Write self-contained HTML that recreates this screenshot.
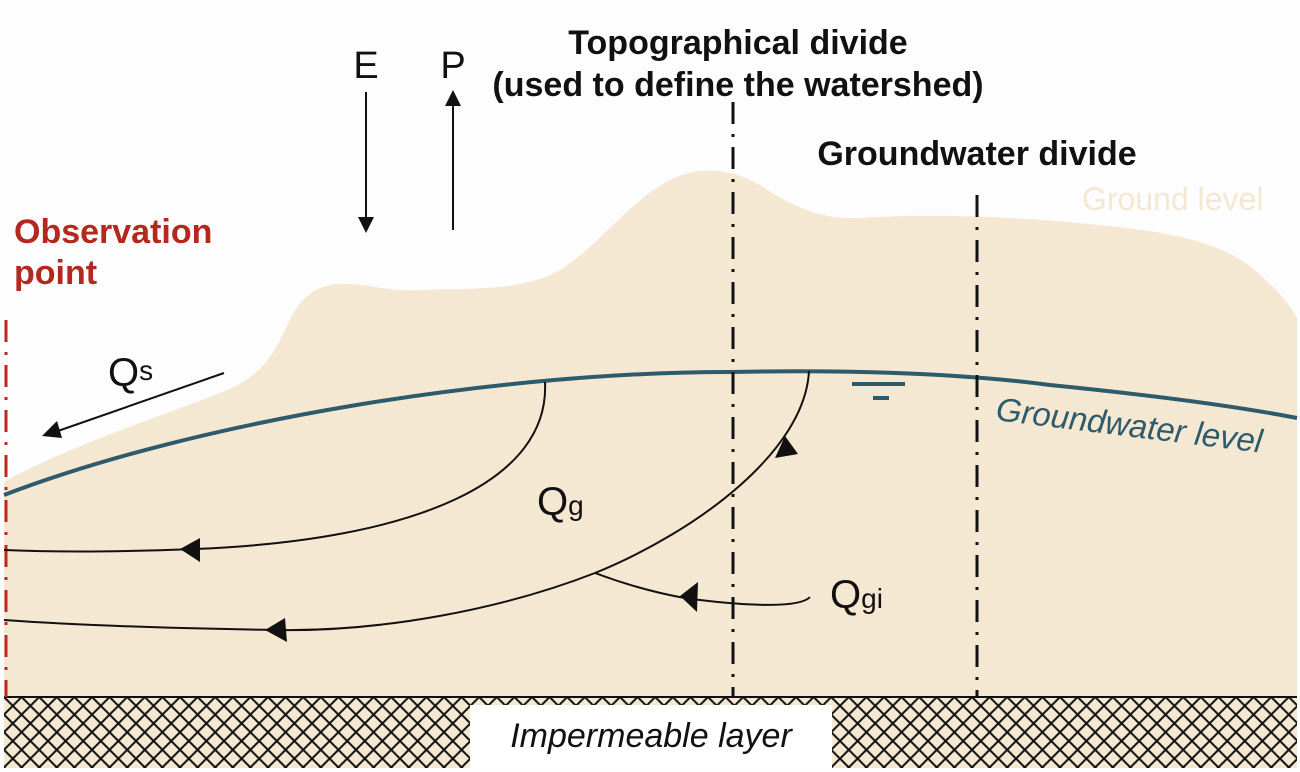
<!DOCTYPE html>
<html><head><meta charset="utf-8"><style>
html,body{margin:0;padding:0;background:#fdfdfe;}
svg{display:block;}
text{font-family:"Liberation Sans",sans-serif;}
</style></head><body>
<svg width="1300" height="772" viewBox="0 0 1300 772" xmlns="http://www.w3.org/2000/svg">
<defs>
<pattern id="hatch" x="4" y="697" width="17.6" height="17.6" patternUnits="userSpaceOnUse">
<rect width="17.6" height="17.6" fill="#f5e8d2"/>
<path d="M0 0 L17.6 17.6 M17.6 0 L0 17.6" stroke="#111" stroke-width="2"/>
</pattern>
</defs>
<rect width="1300" height="772" fill="#fdfdfe"/>
<path d="M4 482 C60 450 150 420 215 395 C260 378 270 360 285 330 C298 300 310 290 330 285 C360 280 380 292 420 290 C470 288 520 292 560 270 C600 245 630 200 670 180 C700 165 730 168 760 185 C790 205 820 220 860 218 C920 214 1000 215 1100 225 C1180 233 1230 245 1260 275 C1280 292 1290 305 1297 318 L1297 697 L4 697 Z" fill="#f5e8d2"/>
<rect x="4" y="697" width="1293" height="71" fill="url(#hatch)"/>
<line x1="4" y1="697" x2="1297" y2="697" stroke="#111" stroke-width="2"/>
<rect x="470" y="705" width="362" height="63" fill="#fff"/>
<text x="651" y="747" font-size="34" font-style="italic" text-anchor="middle" fill="#111">Impermeable layer</text>
<path d="M4 495 C200 420 500 372 730 372 C830 370 950 372 1050 385 C1150 395 1230 405 1297 418" fill="none" stroke="#2e5b6b" stroke-width="4"/>
<line x1="852" y1="384" x2="905" y2="384" stroke="#2e5b6b" stroke-width="4"/>
<line x1="873" y1="398" x2="889" y2="398" stroke="#2e5b6b" stroke-width="4"/>
<text x="995" y="420" font-size="33" font-style="italic" fill="#2e5b6b" transform="rotate(7 995 420)">Groundwater level</text>
<line x1="733" y1="102" x2="733" y2="697" stroke="#111" stroke-width="3" stroke-dasharray="22,10,3,10"/>
<line x1="977" y1="195" x2="977" y2="697" stroke="#111" stroke-width="3" stroke-dasharray="22,10,3,10"/>
<line x1="6" y1="320" x2="6" y2="697" stroke="#c0281f" stroke-width="3" stroke-dasharray="22,10,3,10"/>
<path d="M545 382 C550 480 420 540 195 549 C120 552 50 552 4 550" fill="none" stroke="#111" stroke-width="2"/>
<polygon points="180,549 200,538 200,562" fill="#111"/>
<path d="M809 371 C805 450 700 530 595 573 C500 610 380 632 275 630 C150 628 60 624 4 620" fill="none" stroke="#111" stroke-width="2"/>
<polygon points="265,630 285,618 287,642" fill="#111"/>
<polygon points="775,458 798,454 785,436" fill="#111"/>
<path d="M595 573 C640 590 680 598 700 600 C750 606 800 608 810 597" fill="none" stroke="#111" stroke-width="2"/>
<polygon points="680,596 698,582 697,612" fill="#111"/>
<line x1="224" y1="373" x2="55" y2="432" stroke="#111" stroke-width="2"/>
<polygon points="42,436 57,421 62,438" fill="#111"/>
<line x1="366" y1="92" x2="366" y2="222" stroke="#111" stroke-width="2"/>
<polygon points="358,217 374,217 366,233" fill="#111"/>
<line x1="453" y1="230" x2="453" y2="100" stroke="#111" stroke-width="2"/>
<polygon points="445,106 461,106 453,90" fill="#111"/>
<text x="366" y="78" font-size="38" text-anchor="middle" fill="#111">E</text>
<text x="453" y="78" font-size="38" text-anchor="middle" fill="#111">P</text>
<text x="738" y="54" font-size="34" font-weight="bold" text-anchor="middle" fill="#111">Topographical divide</text>
<text x="738" y="96" font-size="34" font-weight="bold" text-anchor="middle" fill="#111">(used to define the watershed)</text>
<text x="977" y="165" font-size="34" font-weight="bold" text-anchor="middle" fill="#111">Groundwater divide</text>
<text x="1082" y="210" font-size="32" fill="#f5e8d2">Ground level</text>
<text x="14" y="243" font-size="34" font-weight="bold" fill="#b5281e">Observation</text>
<text x="14" y="284" font-size="34" font-weight="bold" fill="#b5281e">point</text>
<text x="108" y="386" font-size="40" fill="#111">Q<tspan font-size="28" dy="-6">s</tspan></text>
<text x="537" y="515" font-size="40" fill="#111">Q<tspan font-size="28">g</tspan></text>
<text x="830" y="608" font-size="40" fill="#111">Q<tspan font-size="28">gi</tspan></text>
</svg>
</body></html>
